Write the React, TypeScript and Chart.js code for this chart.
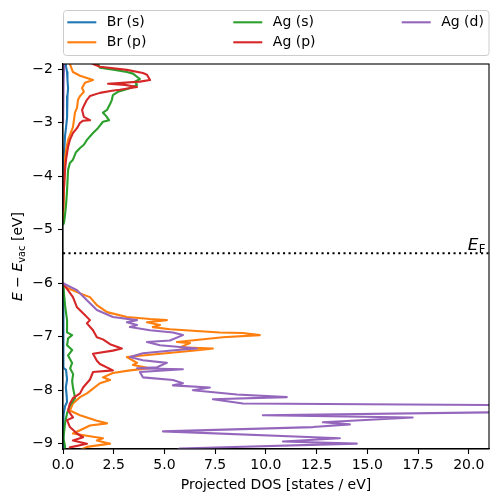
import React, { useEffect, useRef } from 'react';
import { Chart, registerables } from 'chart.js';

Chart.register(...registerables);

// ---- data: [energy (eV), projected DOS (states/eV)] ----
const seriesLabels = ['Br (s)', 'Br (p)', 'Ag (s)', 'Ag (p)', 'Ag (d)'];
const seriesColors = ['#1f77b4', '#ff7f0e', '#2ca02c', '#d62728', '#9467bd'];

const brS_upper = [
  [-1.85, 0.12], [-1.95, 0.15], [-2.05, 0.2], [-2.2, 0.22], [-2.35, 0.25], [-2.5, 0.22],
  [-2.7, 0.2], [-2.9, 0.2], [-3.05, 0.16], [-3.25, 0.1], [-3.45, 0.07], [-3.75, 0.02], [-4.2, 0],
];
const brS_lower = [
  [-6.0, 0], [-7.3, 0.01], [-7.58, 0.03], [-7.62, 0.15], [-7.8, 0.2], [-7.95, 0.14],
  [-8.1, 0.18], [-8.22, 0.2], [-8.3, 0.1], [-8.45, 0.03], [-8.8, 0.01], [-9.2, 0],
];

const brP_upper = [
  [-1.85, 0.3], [-1.9, 0.34], [-2.05, 0.49], [-2.12, 0.84], [-2.2, 1.48], [-2.25, 1.08],
  [-2.35, 0.94], [-2.42, 1.03], [-2.5, 0.84], [-2.57, 0.74], [-2.72, 0.69], [-2.81, 0.59],
  [-2.95, 0.54], [-3.08, 0.49], [-3.23, 0.34], [-3.32, 0.25], [-3.51, 0.15], [-3.69, 0.1],
  [-4.26, 0.05], [-4.82, 0.01],
];
const brP_lower = [
  [-6.0, 0], [-6.07, 0.1], [-6.19, 0.84], [-6.26, 1.33], [-6.41, 1.67], [-6.54, 2.17],
  [-6.63, 3.15], [-6.67, 4.29], [-6.69, 5.12], [-6.73, 4.14], [-6.78, 4.78], [-6.82, 4.43],
  [-6.86, 5.27], [-6.92, 7.73], [-6.93, 8.87], [-6.97, 9.7], [-7.01, 7.88], [-7.1, 5.62],
  [-7.12, 6.26], [-7.2, 5.76], [-7.22, 7.39], [-7.25, 6.75], [-7.38, 3.15], [-7.49, 3.65],
  [-7.53, 3.45], [-7.59, 4.29], [-7.63, 3.3], [-7.68, 2.46], [-7.76, 1.97], [-7.81, 2.32],
  [-7.87, 1.82], [-7.97, 1.48], [-8.06, 1.18], [-8.13, 0.84], [-8.25, 0.49], [-8.38, 0.34],
  [-8.47, 0.84], [-8.57, 1.67], [-8.62, 2.17], [-8.66, 1.33], [-8.75, 0.84], [-8.81, 0.49],
  [-8.87, 1.48], [-8.9, 1.97], [-8.94, 1.67], [-9.0, 2.32], [-9.06, 1.18], [-9.12, 0.84],
  [-9.2, 0.6],
];

const agS_upper = [
  [-1.85, 1.6], [-1.9, 1.72], [-1.97, 1.82], [-2.01, 2.56], [-2.05, 3.15], [-2.08, 3.45],
  [-2.18, 3.79], [-2.23, 3.55], [-2.29, 3.65], [-2.35, 3.3], [-2.38, 3.05], [-2.42, 2.71],
  [-2.48, 2.46], [-2.57, 2.41], [-2.65, 2.32], [-2.76, 2.17], [-2.81, 1.97], [-2.87, 2.12],
  [-2.95, 2.27], [-2.98, 1.97], [-3.1, 1.72], [-3.19, 1.48], [-3.32, 1.18], [-3.41, 1.03],
  [-3.47, 0.84], [-3.55, 0.64], [-3.69, 0.49], [-3.75, 0.34], [-3.88, 0.25], [-4.26, 0.2],
  [-4.54, 0.15], [-4.72, 0.1], [-4.87, 0.05], [-4.91, 0],
];
const agS_lower = [
  [-6.0, 0], [-6.2, 0.05], [-6.41, 0.1], [-6.69, 0.2], [-6.92, 0.2], [-6.97, 0.45],
  [-7.03, 0.25], [-7.16, 0.2], [-7.25, 0.45], [-7.35, 0.25], [-7.49, 0.45], [-7.59, 0.35],
  [-7.7, 0.5], [-7.83, 0.45], [-7.97, 0.5], [-8.06, 0.55], [-8.15, 0.6], [-8.28, 0.35],
  [-8.43, 0.2], [-8.62, 0.1], [-8.9, 0.02], [-9.05, 0.1], [-9.2, 0.05],
];

const agP_upper = [
  [-1.85, 1.3], [-1.9, 1.48], [-1.95, 1.82], [-2.01, 3.15], [-2.07, 3.94], [-2.1, 4.14],
  [-2.2, 4.29], [-2.23, 3.79], [-2.27, 2.22], [-2.29, 3.05], [-2.33, 3.65], [-2.38, 2.81],
  [-2.4, 2.41], [-2.44, 1.82], [-2.5, 1.33], [-2.57, 1.18], [-2.68, 1.03], [-2.76, 0.94],
  [-2.89, 1.03], [-2.95, 1.33], [-2.96, 0.99], [-3.0, 0.84], [-3.1, 0.69], [-3.19, 0.49],
  [-3.32, 0.34], [-3.45, 0.25], [-3.69, 0.15], [-3.88, 0.1], [-4.26, 0.04], [-4.63, 0],
];
const agP_lower = [
  [-6.0, 0], [-6.26, 0.49], [-6.45, 0.69], [-6.56, 0.99], [-6.69, 1.33], [-6.75, 1.18],
  [-6.88, 1.48], [-7.01, 1.67], [-7.05, 1.97], [-7.14, 2.32], [-7.22, 2.9], [-7.26, 2.46],
  [-7.32, 1.48], [-7.45, 1.67], [-7.51, 1.82], [-7.63, 2.46], [-7.66, 1.48], [-7.8, 1.33],
  [-7.95, 0.99], [-8.06, 0.84], [-8.15, 0.49], [-8.25, 0.34], [-8.38, 0.25], [-8.51, 0.49],
  [-8.56, 0.2], [-8.69, 0.34], [-8.81, 0.69], [-8.88, 0.99], [-8.94, 0.49], [-9.0, 1.18],
  [-9.07, 0.34], [-9.2, 0.2],
];

const agD_upper = [
  [-1.85, 0.05], [-2.0, 0.05], [-2.2, 0.03], [-2.5, 0.01], [-3.0, 0],
];
const agD_lower = [
  [-6.0, 0], [-6.13, 0.69], [-6.32, 1.18], [-6.5, 1.67], [-6.63, 2.46], [-6.69, 3.65],
  [-6.73, 3.15], [-6.78, 3.65], [-6.82, 3.3], [-6.88, 4.29], [-6.92, 5.42], [-6.97, 5.91],
  [-7.07, 5.27], [-7.1, 4.14], [-7.16, 4.78], [-7.22, 6.6], [-7.25, 5.62], [-7.31, 3.94],
  [-7.38, 3.3], [-7.44, 3.94], [-7.49, 5.12], [-7.57, 4.63], [-7.59, 3.65], [-7.61, 5.91],
  [-7.66, 3.79], [-7.76, 3.94], [-7.81, 5.42], [-7.87, 5.91], [-7.91, 5.42], [-7.95, 7.24],
  [-8.0, 6.4], [-8.08, 8.57], [-8.13, 11.03], [-8.17, 7.39], [-8.25, 8.87], [-8.28, 22.0],
  [-8.41, 22.0], [-8.47, 9.85], [-8.51, 17.24], [-8.6, 12.81], [-8.64, 14.14], [-8.69, 12.32],
  [-8.77, 4.93], [-8.9, 13.65], [-8.96, 10.84], [-9.0, 14.48], [-9.09, 5.76], [-9.2, 5.3],
];

const seriesBlocks = [
  [brS_upper, brS_lower],
  [brP_upper, brP_lower],
  [agS_upper, agS_lower],
  [agP_upper, agP_lower],
  [agD_upper, agD_lower],
];

const fermiLevel = -5.44;
const xMin = 0;
const xMax = 21;
const yMin = -9.1;
const yMax = -1.9;
const xTicks = [0, 2.5, 5, 7.5, 10, 12.5, 15, 17.5, 20];
const yTicks = [-9, -8, -7, -6, -5, -4, -3, -2];

const FONT = "'DejaVu Sans', sans-serif";

function toPoints(blocks: number[][][]) {
  const pts: { x: number | null; y: number | null }[] = [];
  blocks.forEach((b, i) => {
    if (i > 0) pts.push({ x: null, y: null });
    b.forEach(([e, d]) => pts.push({ x: d, y: e }));
  });
  return pts;
}

const decorPlugin = {
  id: 'decor',
  afterDatasetsDraw(chart: any) {
    const { ctx, chartArea, scales } = chart;
    const { left, right, top, bottom } = chartArea;
    ctx.save();
    // frame
    ctx.strokeStyle = '#000';
    ctx.lineWidth = 1.1;
    ctx.strokeRect(left, top, right - left, bottom - top);

    // E_F label
    const yF = scales.y.getPixelForValue(fermiLevel);
    ctx.fillStyle = '#000';
    ctx.textBaseline = 'alphabetic';
    ctx.textAlign = 'left';
    ctx.font = `oblique 16.7px ${FONT}`;
    const wE = ctx.measureText('E').width;
    ctx.font = `11.7px ${FONT}`;
    const wF = ctx.measureText('F').width;
    const xStart = right - 4 - wE - wF;
    ctx.font = `oblique 16.7px ${FONT}`;
    ctx.fillText('E', xStart, yF - 3);
    ctx.font = `11.7px ${FONT}`;
    ctx.fillText('F', xStart + wE + 0.5, yF - 0.5);

    // y axis title: E − E_vac [eV]
    const parts = [
      { t: 'E', f: `oblique 14px ${FONT}`, dy: 0 },
      { t: ' \u2212 ', f: `14px ${FONT}`, dy: 0 },
      { t: 'E', f: `oblique 14px ${FONT}`, dy: 0 },
      { t: 'vac', f: `9.8px ${FONT}`, dy: 3 },
      { t: ' [eV]', f: `14px ${FONT}`, dy: 0 },
    ];
    let total = 0;
    const widths = parts.map((p) => {
      ctx.font = p.f;
      const w = ctx.measureText(p.t).width;
      total += w;
      return w;
    });
    ctx.translate(22, (top + bottom) / 2);
    ctx.rotate(-Math.PI / 2);
    let cx = -total / 2;
    parts.forEach((p, i) => {
      ctx.font = p.f;
      ctx.fillText(p.t, cx, p.dy);
      cx += widths[i];
    });
    ctx.restore();

    // x axis title
    ctx.save();
    ctx.fillStyle = '#000';
    ctx.font = `14px ${FONT}`;
    ctx.textAlign = 'center';
    ctx.textBaseline = 'alphabetic';
    ctx.fillText('Projected DOS [states / eV]', (left + right) / 2, 489);
    ctx.restore();

    // legend
    ctx.save();
    const bx = 63.5, by = 10.5, bw = 425.5, bh = 45, r = 3;
    ctx.beginPath();
    ctx.moveTo(bx + r, by);
    ctx.lineTo(bx + bw - r, by);
    ctx.quadraticCurveTo(bx + bw, by, bx + bw, by + r);
    ctx.lineTo(bx + bw, by + bh - r);
    ctx.quadraticCurveTo(bx + bw, by + bh, bx + bw - r, by + bh);
    ctx.lineTo(bx + r, by + bh);
    ctx.quadraticCurveTo(bx, by + bh, bx, by + bh - r);
    ctx.lineTo(bx, by + r);
    ctx.quadraticCurveTo(bx, by, bx + r, by);
    ctx.closePath();
    ctx.fillStyle = 'rgba(255,255,255,0.8)';
    ctx.fill();
    ctx.strokeStyle = '#cccccc';
    ctx.lineWidth = 1;
    ctx.stroke();
    const cols = [67.3, 233.3, 401.7];
    const rows = [22.3, 42.3];
    const layout = [
      [0, 0], [0, 1], [1, 0], [1, 1], [2, 0],
    ];
    ctx.font = `14px ${FONT}`;
    ctx.textBaseline = 'middle';
    ctx.textAlign = 'left';
    seriesLabels.forEach((lab, i) => {
      const [c, rr] = layout[i];
      const x0 = cols[c];
      const y0 = rows[rr];
      ctx.strokeStyle = seriesColors[i];
      ctx.lineWidth = 2.1;
      ctx.beginPath();
      ctx.moveTo(x0, y0);
      ctx.lineTo(x0 + 29, y0);
      ctx.stroke();
      ctx.fillStyle = '#000';
      ctx.fillText(lab, x0 + 39.5, y0 + 0.5);
    });
    ctx.restore();
  },
};

export default function App() {
  const canvasRef = useRef<HTMLCanvasElement | null>(null);

  useEffect(() => {
    document.body.style.margin = '0';
    Chart.defaults.font.family = FONT;
    Chart.defaults.font.size = 14;
    Chart.defaults.color = '#000';

    const datasets: any[] = seriesBlocks.map((blocks, i) => ({
      label: seriesLabels[i],
      data: toPoints(blocks),
      showLine: true,
      borderColor: seriesColors[i],
      backgroundColor: seriesColors[i],
      borderWidth: 2.1,
      pointRadius: 0,
      pointHoverRadius: 0,
      borderJoinStyle: 'round',
      spanGaps: false,
      tension: 0,
      clip: 0,
      order: 10 - i,
    }));
    datasets.push({
      label: 'EF',
      data: [
        { x: xMin, y: fermiLevel },
        { x: xMax, y: fermiLevel },
      ],
      showLine: true,
      borderColor: '#000',
      borderWidth: 2.1,
      borderDash: [2.1, 3.4],
      pointRadius: 0,
      clip: 0,
      order: 0,
    });

    const tickGrid = {
      drawOnChartArea: false,
      drawTicks: true,
      tickLength: 5,
      tickColor: '#000',
      tickWidth: 1.1,
    };

    const chart = new Chart(canvasRef.current as HTMLCanvasElement, {
      type: 'scatter',
      data: { datasets },
      options: {
        animation: false,
        responsive: true,
        maintainAspectRatio: false,
        layout: { padding: { top: 64, right: 9, left: 0, bottom: 0 } },
        plugins: {
          legend: { display: false },
          tooltip: { enabled: false },
        },
        scales: {
          x: {
            type: 'linear',
            min: xMin,
            max: xMax,
            bounds: 'data',
            afterBuildTicks: (s: any) => {
              s.ticks = xTicks.map((v) => ({ value: v }));
            },
            ticks: {
              autoSkip: false,
              maxRotation: 0,
              padding: 3,
              color: '#000',
              font: { size: 14, family: FONT },
              callback: (v: any) => Number(v).toFixed(1),
            },
            grid: tickGrid,
            border: { display: true, color: '#000', width: 1.1 },
            afterFit: (s: any) => {
              s.height = 53;
            },
          },
          y: {
            type: 'linear',
            min: yMin,
            max: yMax,
            bounds: 'data',
            afterBuildTicks: (s: any) => {
              s.ticks = yTicks.map((v) => ({ value: v }));
            },
            ticks: {
              autoSkip: false,
              padding: 5,
              color: '#000',
              font: { size: 14, family: FONT },
              callback: (v: any) => {
                const n = Math.round(Number(v));
                return (n < 0 ? '\u2212' : '') + Math.abs(n);
              },
            },
            grid: tickGrid,
            border: { display: true, color: '#000', width: 1.1 },
            afterFit: (s: any) => {
              s.width = 63;
            },
          },
        },
      } as any,
      plugins: [decorPlugin],
    });
    return () => chart.destroy();
  }, []);

  return (
    <div style={{ position: 'fixed', left: 0, top: 0, width: 498, height: 502 }}>
      <canvas ref={canvasRef} />
    </div>
  );
}
